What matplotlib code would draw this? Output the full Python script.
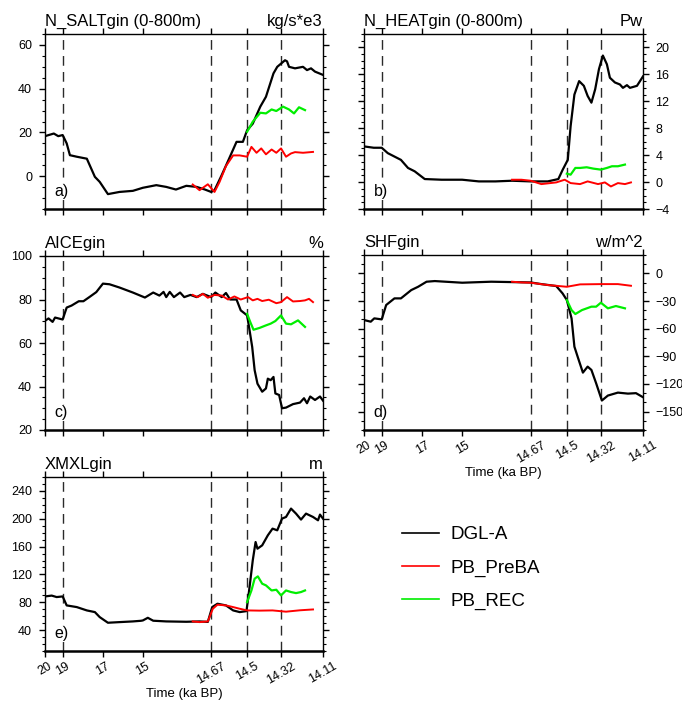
import numpy as np
import matplotlib
matplotlib.use("Agg")
import matplotlib.pyplot as plt
from matplotlib.lines import Line2D
from matplotlib.ticker import MultipleLocator, NullLocator

plt.rcParams['font.family'] = ['Liberation Sans', 'DejaVu Sans']

# ---------------- data ----------------
tick_times = [20, 19, 17, 15, 14.67, 14.5, 14.32, 14.11]
tick_labels = ["20", "19", "17", "15", "14.67", "14.5", "14.32", "14.11"]
tick_frac = [0.0, 0.0635, 0.2084, 0.352, 0.5976, 0.727, 0.849, 1.0]
event_times = [19, 14.67, 14.5, 14.32]

series_names = ["DGL-A", "PB_PreBA", "PB_REC"]

# a) N_SALTgin
a_t_k = [20, 19.5, 19.25, 19, 18.8, 18.64, 18.3, 17.8, 17.4, 17.16, 16.75, 16.17, 15.5, 15, 14.935, 14.887,
         14.84, 14.79, 14.74, 14.70, 14.67, 14.654, 14.62, 14.587, 14.55, 14.52, 14.5, 14.47, 14.43, 14.40,
         14.36, 14.34, 14.30, 14.29, 14.28, 14.25, 14.21, 14.19, 14.17, 14.15, 14.11]
a_v_k = [18.3, 19.5, 18.3, 18.8, 15, 9.6, 8.9, 8, -0.3, -2.6, -8.2, -7.2, -6.7, -5.3, -4.1, -4.9,
         -6.1, -4.4, -4.9, -6.1, -7.2, -6.4, 0.5, 7.6, 15.7, 15.7, 21, 24, 31.8, 36.3,
         47, 50, 53, 52.5, 50, 49.3, 50, 48.5, 49.3, 47.8, 46.3]
a_t_r = [14.759, 14.726, 14.686, 14.654, 14.63, 14.60, 14.566, 14.535, 14.5, 14.477, 14.45, 14.425, 14.40,
         14.37, 14.345, 14.32, 14.295, 14.27, 14.25, 14.21, 14.16]
a_v_r = [-3.8, -6.4, -3.7, -7.2, -2.6, 4.6, 9.5, 9.5, 8.9, 13.4, 10.7, 12.7, 10, 12.2, 10.7, 12.7, 8.9,
         10.4, 11, 10.7, 11.1]
a_t_g = [14.5, 14.47, 14.43, 14.40, 14.37, 14.345, 14.31, 14.28, 14.255, 14.23, 14.20]
a_v_g = [20.3, 24.9, 29, 28.7, 30.5, 29.8, 31.8, 30.5, 28.7, 31.5, 30.2]

# b) N_HEATgin
b_t_k = [20, 19.45, 19, 18.7, 18.05, 17.7, 17.37, 16.87, 16.03, 15, 14.92, 14.84, 14.76, 14.67, 14.59,
         14.54, 14.52, 14.495, 14.48, 14.46, 14.435, 14.41, 14.39, 14.37, 14.35, 14.33, 14.31, 14.29,
         14.275, 14.25, 14.225, 14.21, 14.19, 14.175, 14.14, 14.11]
b_v_k = [5.3, 5.1, 5.1, 4.3, 3.3, 2.1, 1.6, 0.45, 0.35, 0.35, 0.1, 0.1, 0.2, 0.1, 0.1,
         0.45, 1.8, 3.3, 8.3, 13, 15, 14.3, 12.8, 11.8, 13.8, 16.8, 18.8, 17.5,
         15.5, 14.8, 14.5, 14, 14.4, 14, 14.3, 15.7]
b_t_r = [14.76, 14.715, 14.67, 14.62, 14.55, 14.51, 14.48, 14.43, 14.39, 14.335, 14.30, 14.27, 14.235,
         14.20, 14.17]
b_v_r = [0.35, 0.35, 0.2, -0.3, -0.05, 0.35, -0.15, -0.3, 0.1, -0.3, -0.05, -0.65, -0.15, -0.3, -0.05]
b_t_g = [14.5, 14.48, 14.455, 14.43, 14.395, 14.36, 14.32, 14.29, 14.265, 14.235, 14.20]
b_v_g = [1.25, 1.1, 2.1, 2.1, 2.2, 2.0, 1.85, 2.1, 2.35, 2.35, 2.6]

# c) AICEgin
c_t_k = [20, 19.8, 19.57, 19.43, 19, 18.8, 18.56, 18.2, 17.97, 17.66, 17.33, 17, 16.67, 16.17, 15.5,
         14.99, 14.95, 14.92, 14.90, 14.887, 14.87, 14.85, 14.82, 14.80, 14.77, 14.74, 14.71, 14.67,
         14.65, 14.62, 14.60, 14.58, 14.55, 14.53, 14.5, 14.487, 14.473, 14.46, 14.445, 14.42, 14.40,
         14.39, 14.375, 14.36, 14.35, 14.33, 14.315, 14.295, 14.26, 14.225, 14.205, 14.19, 14.174,
         14.15, 14.125, 14.11]
c_v_k = [70.2, 71.3, 69.7, 71.7, 70.8, 76.3, 77.2, 79.2, 79.2, 81.2, 83.4, 87.3, 87, 85.5, 83.2,
         80.9, 83.2, 81.8, 83.5, 81.1, 83.5, 81.1, 83.2, 81.1, 82.1, 81.1, 82.6, 81.1,
         83.2, 81.1, 83, 80, 80, 75, 72.7, 65.9, 58.2, 47.5, 41.3, 37.6, 39.1,
         43.6, 42.9, 44.4, 36.8, 36.1, 30, 30.3, 31.9, 32.6, 34.6, 32.3, 35.4,
         33.8, 35.4, 33.5]
c_t_r = [14.759, 14.735, 14.71, 14.686, 14.654, 14.62, 14.59, 14.56, 14.53, 14.495, 14.47, 14.445, 14.42,
         14.385, 14.345, 14.32, 14.29, 14.26, 14.225, 14.20, 14.18, 14.16]
c_v_r = [82.1, 81.1, 82.6, 80.8, 82.1, 81.8, 80, 81.4, 80, 81.1, 79.6, 80.3, 79.3, 79.9, 78.3, 78.8,
         81.1, 79.1, 79.3, 79.6, 80.3, 78.8]
c_t_g = [14.5, 14.483, 14.466, 14.435, 14.40, 14.375, 14.35, 14.32, 14.295, 14.27, 14.235, 14.20]
c_v_g = [73.4, 69.6, 66.1, 66.9, 68.1, 68.9, 70.1, 72.7, 68.9, 68.6, 70.4, 67.4]

# d) SHFgin
d_t_k = [20, 19.62, 19.42, 19, 18.78, 18.37, 18.05, 17.54, 17.2, 16.78, 16.37, 15, 14.86, 14.67, 14.62,
         14.55, 14.52, 14.5, 14.475, 14.46, 14.44, 14.415, 14.39, 14.37, 14.345, 14.315, 14.285,
         14.235, 14.185, 14.145, 14.11]
d_v_k = [-50.6, -52.4, -48.8, -49.9, -34.3, -27.1, -27.1, -18.1, -14.5, -9, -8.3, -10.1, -9, -9.8, -11.6,
         -13.7, -21.7, -28.9, -48.8, -79.5, -92.2, -107.7, -101.2, -104.8, -119.3, -138, -132.6,
         -129.4, -130.5, -130, -134.4]
d_t_r = [14.76, 14.715, 14.67, 14.59, 14.5, 14.43, 14.32, 14.235, 14.17]
d_v_r = [-9, -9.8, -10.1, -12.6, -14.5, -11.9, -11.6, -11.6, -13.4]
d_t_g = [14.5, 14.475, 14.455, 14.42, 14.37, 14.345, 14.32, 14.285, 14.245, 14.20]
d_v_g = [-28.9, -39.8, -44.1, -39.8, -36.1, -36.1, -31.8, -37.9, -35.4, -37.9]

# e) XMXLgin
e_t_k = [20, 19.62, 19.34, 19, 18.8, 18.3, 17.8, 17.4, 17.16, 16.75, 16.17, 15.5, 15.1, 15, 14.976, 14.95,
         14.887, 14.79, 14.726, 14.686, 14.665, 14.64, 14.6, 14.566, 14.535, 14.503, 14.487, 14.47,
         14.455, 14.445, 14.42, 14.39, 14.365, 14.34, 14.315, 14.295, 14.27, 14.245, 14.22, 14.195,
         14.16, 14.135, 14.125, 14.11]
e_v_k = [88.4, 89.6, 87.5, 88.4, 75.5, 73.1, 68.3, 65.9, 58.7, 50.6, 51.5, 52.5, 53.4, 53.9, 57.7, 53.5,
         52.5, 52, 52.5, 51.8, 73.1, 77.9, 75.5, 68.3, 65.9, 67.3, 101.9, 140.2,
         166.6, 157, 161.8, 176.2, 185.8, 183.4, 200.2, 202.6, 214.6, 207.4, 198.8, 207.4,
         202.6, 197.8, 206, 200.2]
e_t_r = [14.759, 14.726, 14.686, 14.662, 14.64, 14.6, 14.566, 14.535, 14.5, 14.435, 14.365, 14.295,
         14.225, 14.16]
e_v_r = [52.5, 51.5, 52.5, 70.7, 76.5, 75.5, 73.1, 70.7, 68.3, 68, 68.3, 66.5, 68.5, 69.7]
e_t_g = [14.5, 14.477, 14.46, 14.443, 14.42, 14.40, 14.37, 14.345, 14.32, 14.295, 14.27, 14.245,
         14.22, 14.20]
e_v_g = [80.3, 97, 113.9, 117.2, 106.7, 104.3, 97, 98, 89.9, 97, 94.7, 93.2, 94.7, 97]

# ---------------- axis scale (piecewise time axis, increasing in time) ----------------
_T_asc = np.array(tick_times[::-1], dtype=float)
_Q_asc = 1.0 - np.array(tick_frac[::-1], dtype=float)


def fwd(t):
    return np.interp(np.asarray(t, dtype=float), _T_asc, _Q_asc)


def inv(q):
    return np.interp(np.asarray(q, dtype=float), _Q_asc, _T_asc)


fig = plt.figure(figsize=(6.82, 7.02), dpi=100)
W, H = 682.0, 702.0


def make_ax(l, r, t, b):
    return fig.add_axes([l / W, 1 - b / H, (r - l) / W, (b - t) / H])


panels = [
    dict(box=(45, 323, 34, 209), title="N_SALTgin (0-800m)", unit="kg/s*e3", lab="a)",
         ylim=(-15, 65), major=20, minor=5, side="left", xl=False,
         k=(a_t_k, a_v_k), r=(a_t_r, a_v_r), g=(a_t_g, a_v_g)),
    dict(box=(364, 643, 34, 209), title="N_HEATgin (0-800m)", unit="Pw", lab="b)",
         ylim=(-4, 22), major=4, minor=1, side="right", xl=False,
         k=(b_t_k, b_v_k), r=(b_t_r, b_v_r), g=(b_t_g, b_v_g)),
    dict(box=(45, 323, 256, 430), title="AICEgin", unit="%", lab="c)",
         ylim=(20, 100), major=20, minor=5, side="left", xl=False,
         k=(c_t_k, c_v_k), r=(c_t_r, c_v_r), g=(c_t_g, c_v_g)),
    dict(box=(364, 643, 255, 430), title="SHFgin", unit="w/m^2", lab="d)",
         ylim=(-170, 20), major=30, minor=10, side="right", xl=True,
         k=(d_t_k, d_v_k), r=(d_t_r, d_v_r), g=(d_t_g, d_v_g)),
    dict(box=(45, 323, 477, 651), title="XMXLgin", unit="m", lab="e)",
         ylim=(10, 260), major=40, minor=10, side="left", xl=True,
         k=(e_t_k, e_v_k), r=(e_t_r, e_v_r), g=(e_t_g, e_v_g)),
]

for p in panels:
    ax = make_ax(*p["box"])
    ax.set_xscale("function", functions=(fwd, inv))
    ax.set_xlim(20, 14.11)
    ax.set_ylim(*p["ylim"])
    for tv in event_times:
        ax.axvline(tv, color="#2a2a2a", lw=1.0, dashes=(7, 4.5), zorder=1)
    ax.plot(*p["k"], color="black", lw=1.6, zorder=3)
    ax.plot(*p["r"], color="#ff0000", lw=1.4, zorder=4)
    ax.plot(*p["g"], color="#00ee00", lw=1.6, zorder=5)

    ax.set_xticks(tick_times)
    ax.xaxis.set_minor_locator(NullLocator())
    if p["xl"]:
        ax.set_xticklabels(tick_labels, rotation=30, ha="center", va="top", fontsize=9)
        ax.set_xlabel("Time (ka BP)", fontsize=9.5, labelpad=1)
    else:
        ax.set_xticklabels([])
    ax.yaxis.set_major_locator(MultipleLocator(p["major"]))
    ax.yaxis.set_minor_locator(MultipleLocator(p["minor"]))
    ax.tick_params(axis="both", which="major", direction="out", length=4.3, width=1.0,
                   labelsize=9, top=True, right=True, left=True, bottom=True)
    ax.tick_params(axis="both", which="minor", direction="out", length=2.2, width=0.8,
                   top=True, right=True, left=True, bottom=True)
    ax.tick_params(axis="x", which="major", pad=2.5)
    if p["side"] == "right":
        ax.tick_params(axis="y", labelleft=False, labelright=True, pad=4.5)
    else:
        ax.tick_params(axis="y", labelleft=True, labelright=False, pad=5)
    for s in ["left", "right", "top"]:
        ax.spines[s].set_linewidth(1.0)
    ax.spines["bottom"].set_linewidth(1.8)
    ax.set_title(p["title"], loc="left", fontsize=12, pad=6)
    ax.set_title(p["unit"], loc="right", fontsize=12, pad=6)
    ax.text(0.035, 0.055, p["lab"], transform=ax.transAxes, fontsize=11.5, ha="left", va="bottom",
            zorder=6, bbox=dict(facecolor="white", edgecolor="none", pad=0.5))

handles = [Line2D([], [], color="black", lw=1.2),
           Line2D([], [], color="#ff0000", lw=1.2),
           Line2D([], [], color="#00ee00", lw=1.2)]
fig.legend(handles, series_names, loc="center left", bbox_to_anchor=(402 / W, 1 - 568 / H),
           frameon=False, fontsize=13.5, handlelength=1.95, handletextpad=0.65,
           labelspacing=0.85, borderpad=0, borderaxespad=0)

fig.savefig("out.png", dpi=100)
